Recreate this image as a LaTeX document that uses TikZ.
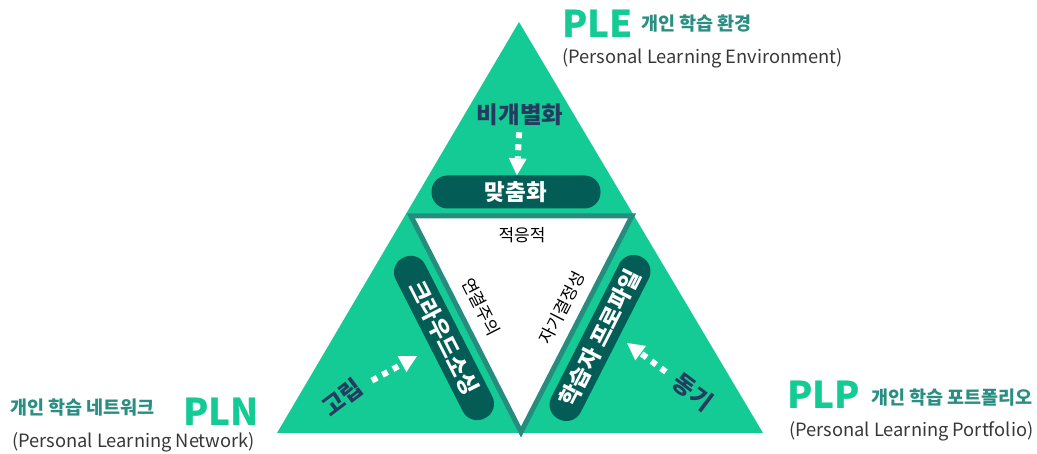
\documentclass[tikz,border=0pt]{standalone}
\usepackage{fontspec}
\setmainfont{Noto Sans CJK KR}
\usetikzlibrary{positioning,arrows.meta}

\definecolor{leafgreen}{RGB}{21,203,149}
\definecolor{edgeteal}{RGB}{38,140,126}
\definecolor{pilldark}{RGB}{3,92,86}
\definecolor{subteal}{RGB}{42,142,130}
\definecolor{inknavy}{RGB}{36,60,96}
\definecolor{inkgray}{RGB}{55,55,55}

\begin{document}
\begin{tikzpicture}[
    x=1pt, y=-1pt,
    pill/.style={fill=pilldark, text=white, font=\fontsize{22.5}{22.5}\selectfont\bfseries,
        rounded corners=16pt, minimum height=33pt, inner sep=0pt},
    title/.style={text=leafgreen, font=\fontsize{37}{37}\selectfont\bfseries, inner sep=0pt, anchor=base west},
    subname/.style={text=subteal, font=\fontsize{18.5}{18.5}\selectfont\bfseries, inner sep=0pt, anchor=base west},
    fullname/.style={text=inkgray, font=\fontsize{18.3}{18.3}\selectfont, inner sep=0pt, anchor=base west},
    cue/.style={text=inknavy, font=\fontsize{23.5}{23.5}\selectfont\bfseries, inner sep=0pt},
    trait/.style={text=black, font=\fontsize{17}{17}\selectfont, inner sep=0pt},
    dotarrow/.style={white, line width=6pt, dash pattern=on 6pt off 6pt,
        -{Triangle[width=18pt, length=17pt, line width=0pt]}}
]
\useasboundingbox (0,0) rectangle (1037,454);

% outer triangle and the inner (inverted) one
\fill[leafgreen] (519,22) -- (277,433) -- (763,433) -- cycle;
\draw[edgeteal, line width=5pt, line join=miter, fill=white] (411,216) -- (632,216) -- (521,432) -- cycle;

% top: PLE
\node[cue] (nonind) at (520,115) {비개별화};
\node[pill, minimum width=169pt] (custom) at (516,192) {맞춤화};
\draw[dotarrow, shorten <=6pt] (nonind) -- (custom);

% left: PLN
\node[pill, minimum width=180pt, rotate=-63] (crowd) at (444,338) {크라우드소싱};
\node[cue, rotate=37] (isolate) at (342,397) {고립};
\coordinate (isotip) at (417,356);
\draw[dotarrow, shorten <=12pt] (isolate) -- (isotip);

% right: PLP
\node[pill, minimum width=182pt, rotate=63] (profile) at (600,338) {학습자 프로파일};
\node[cue, rotate=-37] (motive) at (693,392) {동기};
\coordinate (motivetip) at (627,343);
\draw[dotarrow, shorten <=12pt] (motive) -- (motivetip);

% inside
\node[trait] (adaptive) at (522,235) {적응적};
\node[trait, rotate=-63] (connect) at (481,307) {연결주의};
\node[trait, rotate=63] (selfdet) at (562,308) {자기결정성};

% labels
\node[title] (ple) at (562,38) {PLE};
\node[subname] (plek) at (641,31) {개인 학습 환경};
\node[fullname] (plee) at (562,64) {(Personal Learning Environment)};

\node[subname] (plnk) at (10,415) {개인 학습 네트워크};
\node[title] (pln) at (183,425) {PLN};
\node[fullname] (plne) at (12,448) {(Personal Learning Network)};

\node[title] (plp) at (787,409) {PLP};
\node[subname] (plpk) at (871,405) {개인 학습 포트폴리오};
\node[fullname] (plpe) at (789,437) {(Personal Learning Portfolio)};
\end{tikzpicture}
\end{document}
